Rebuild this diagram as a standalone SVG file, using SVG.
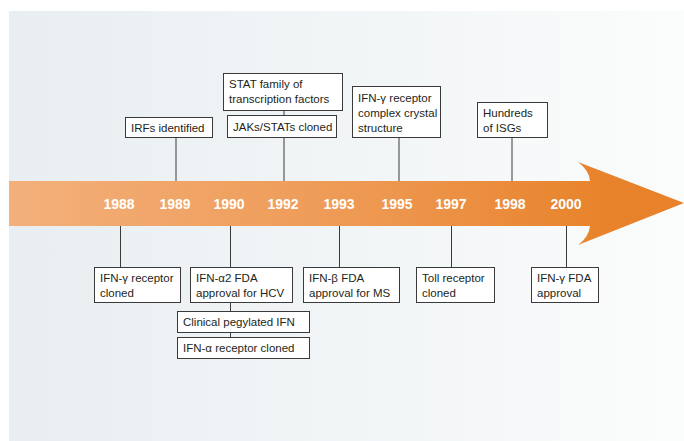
<svg xmlns="http://www.w3.org/2000/svg" width="684" height="441" viewBox="0 0 684 441">
<defs>
<linearGradient id="bg" x1="0" y1="0" x2="1" y2="0">
<stop offset="0" stop-color="#e8eef1"/>
<stop offset="1" stop-color="#fbfcfc"/>
</linearGradient>
<linearGradient id="arrowGrad" gradientUnits="userSpaceOnUse" x1="9" y1="0" x2="684" y2="0">
<stop offset="0" stop-color="#f3b07b"/>
<stop offset="0.5" stop-color="#ee9a55"/>
<stop offset="0.88" stop-color="#e8832b"/>
<stop offset="1" stop-color="#e8812a"/>
</linearGradient>
<style>
.box{fill:#ffffff;stroke:#3a3a3a;stroke-width:1}
.lbl{font-family:"Liberation Sans",Arial,sans-serif;font-size:11.5px;fill:#231f20}
.yr{font-family:"Liberation Sans",Arial,sans-serif;font-size:14px;font-weight:bold;fill:#ffffff;text-anchor:middle}
.conn{stroke:#3a3a3a;stroke-width:1;fill:none}
</style>
</defs>
<rect x="0" y="0" width="684" height="441" fill="#ffffff"/>
<rect x="9" y="11" width="675" height="430" fill="url(#bg)"/>
<g id="connectors">
<line class="conn" x1="176" y1="137.5" x2="176" y2="181"/>
<line class="conn" x1="284" y1="111" x2="284" y2="115"/>
<line class="conn" x1="284" y1="138" x2="284" y2="181"/>
<line class="conn" x1="399" y1="138" x2="399" y2="181"/>
<line class="conn" x1="512" y1="138" x2="512" y2="181"/>
<line class="conn" x1="120.5" y1="226" x2="120.5" y2="267"/>
<line class="conn" x1="230.5" y1="226" x2="230.5" y2="267"/>
<line class="conn" x1="230.5" y1="302" x2="230.5" y2="311"/>
<line class="conn" x1="230.5" y1="333" x2="230.5" y2="337"/>
<line class="conn" x1="339.5" y1="226" x2="339.5" y2="267"/>
<line class="conn" x1="451.5" y1="226" x2="451.5" y2="267"/>
<line class="conn" x1="566.5" y1="226" x2="566.5" y2="267"/>
</g>
<g id="timeline">
<path d="M9,181 L590,181 Q589,170 578,162 L684,203 L578,245 Q589,237 590,226 L9,226 Z" fill="url(#arrowGrad)"/>
<text class="yr" x="119" y="209">1988</text>
<text class="yr" x="175" y="209">1989</text>
<text class="yr" x="229" y="209">1990</text>
<text class="yr" x="283" y="209">1992</text>
<text class="yr" x="339" y="209">1993</text>
<text class="yr" x="397" y="209">1995</text>
<text class="yr" x="451" y="209">1997</text>
<text class="yr" x="510" y="209">1998</text>
<text class="yr" x="566" y="209">2000</text>
</g>
<g id="irfs">
<rect class="box" x="125.5" y="117.5" width="87" height="20"/>
<text class="lbl" x="131" y="132">IRFs identified</text>
</g>
<g id="stat-family">
<rect class="box" x="223.5" y="73.5" width="119" height="37"/>
<text class="lbl" x="229" y="88">STAT family of</text>
<text class="lbl" x="229" y="103">transcription factors</text>
</g>
<g id="jaks-stats">
<rect class="box" x="227.5" y="115.5" width="109" height="22"/>
<text class="lbl" x="233" y="131">JAKs/STATs cloned</text>
</g>
<g id="crystal">
<rect class="box" x="352.5" y="86.5" width="88" height="51"/>
<text class="lbl" x="358" y="102">IFN-γ receptor</text>
<text class="lbl" x="358" y="117">complex crystal</text>
<text class="lbl" x="358" y="132">structure</text>
</g>
<g id="isgs">
<rect class="box" x="477.5" y="102.5" width="70" height="35"/>
<text class="lbl" x="483" y="117">Hundreds</text>
<text class="lbl" x="483" y="132">of ISGs</text>
</g>
<g id="ifng-receptor">
<rect class="box" x="94.5" y="267.5" width="86" height="35"/>
<text class="lbl" x="100" y="282">IFN-γ receptor</text>
<text class="lbl" x="100" y="297">cloned</text>
</g>
<g id="ifna2-fda">
<rect class="box" x="190.5" y="267.5" width="102" height="35"/>
<text class="lbl" x="196" y="282">IFN-α2 FDA</text>
<text class="lbl" x="196" y="297">approval for HCV</text>
</g>
<g id="pegylated">
<rect class="box" x="177.5" y="311.5" width="132" height="21"/>
<text class="lbl" x="183" y="326">Clinical pegylated IFN</text>
</g>
<g id="ifna-receptor">
<rect class="box" x="177.5" y="337.5" width="132" height="21"/>
<text class="lbl" x="183" y="352">IFN-α receptor cloned</text>
</g>
<g id="ifnb-fda">
<rect class="box" x="303.5" y="267.5" width="96" height="35"/>
<text class="lbl" x="309" y="282">IFN-β FDA</text>
<text class="lbl" x="309" y="297">approval for MS</text>
</g>
<g id="toll">
<rect class="box" x="416.5" y="267.5" width="78" height="35"/>
<text class="lbl" x="422" y="282">Toll receptor</text>
<text class="lbl" x="422" y="297">cloned</text>
</g>
<g id="ifng-fda">
<rect class="box" x="531.5" y="267.5" width="67" height="35"/>
<text class="lbl" x="537" y="282">IFN-γ FDA</text>
<text class="lbl" x="537" y="297">approval</text>
</g>
</svg>
